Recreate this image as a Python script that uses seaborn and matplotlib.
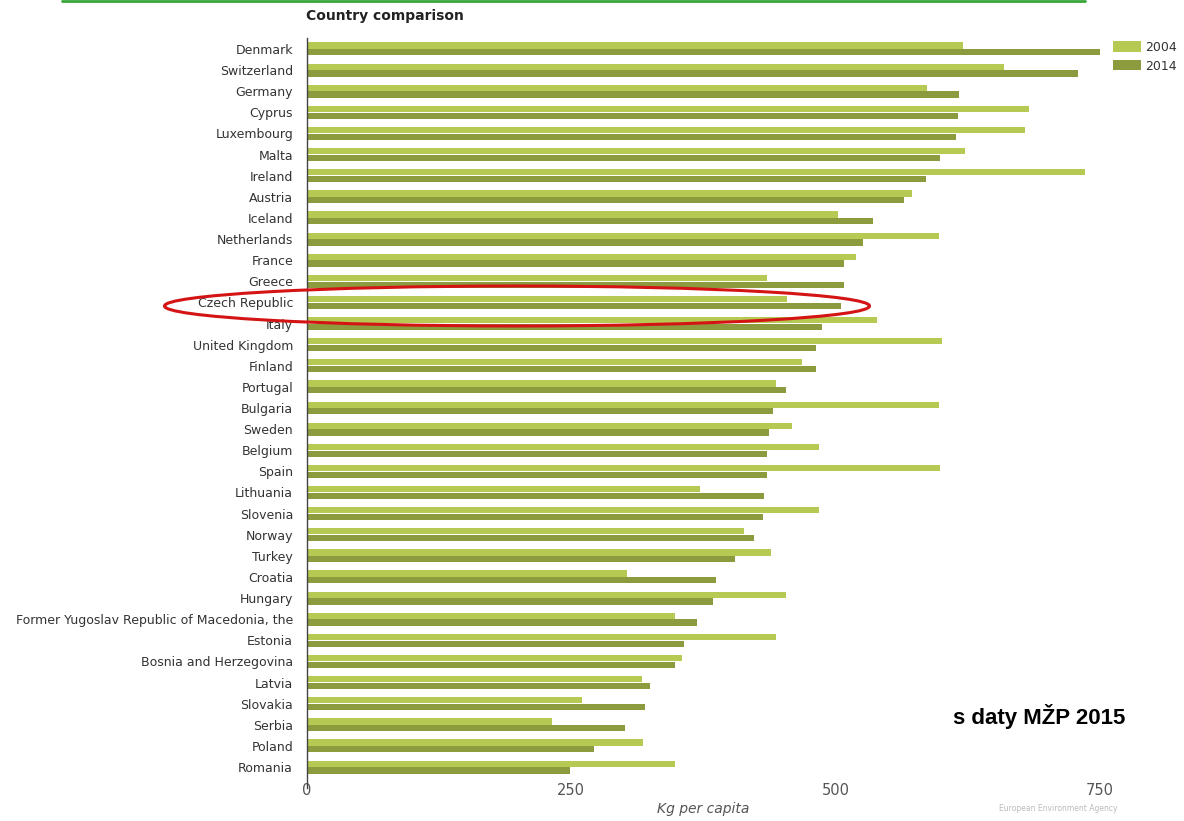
import matplotlib
matplotlib.use("Agg")
import matplotlib.pyplot as plt
from matplotlib.patches import Ellipse
from matplotlib.lines import Line2D
import seaborn as sns
import pandas as pd

countries = [
    "Denmark", "Switzerland", "Germany", "Cyprus", "Luxembourg", "Malta",
    "Ireland", "Austria", "Iceland", "Netherlands", "France", "Greece",
    "Czech Republic", "Italy", "United Kingdom", "Finland", "Portugal",
    "Bulgaria", "Sweden", "Belgium", "Spain", "Lithuania", "Slovenia",
    "Norway", "Turkey", "Croatia", "Hungary",
    "Former Yugoslav Republic of Macedonia, the", "Estonia",
    "Bosnia and Herzegovina", "Latvia", "Slovakia", "Serbia", "Poland",
    "Romania",
]
kg_2004 = [620, 659, 586, 683, 679, 622, 736, 572, 502, 598, 519, 435,
           454, 539, 601, 468, 444, 598, 459, 484, 599, 372, 484, 413,
           439, 303, 453, 348, 444, 355, 317, 260, 232, 318, 348]
kg_2014 = [750, 729, 617, 616, 614, 599, 585, 565, 535, 526, 508, 508,
           505, 487, 481, 481, 453, 441, 437, 435, 435, 432, 431, 423,
           405, 387, 384, 369, 357, 348, 324, 320, 301, 271, 249]
years = ["2004", "2014"]
x_ticks = [0, 250, 500, 750]

df = pd.DataFrame({
    "country": countries * 2,
    "kg": kg_2004 + kg_2014,
    "year": [years[0]] * len(countries) + [years[1]] * len(countries),
})

sns.set_theme(style="white")
plt.rcParams["font.family"] = ["DejaVu Sans"]

W, H = 1184, 821
fig = plt.figure(figsize=(W / 100, H / 100), dpi=100)
ax = fig.add_axes([307 / W, 1 - 777.6 / H, (1100 - 307) / W, (777.6 - 38.4) / H])

palette = {"2004": "#b6c952", "2014": "#8b9b3d"}
sns.barplot(data=df, y="country", x="kg", hue="year", palette=palette,
            order=countries, hue_order=years, orient="h",
            width=0.64, gap=0.08, saturation=1, linewidth=0, ax=ax)

ax.set_xlim(0, 750)
ax.set_xticks(x_ticks)
ax.set_xticklabels([str(t) for t in x_ticks], fontsize=10.5, color="#555555")
ax.tick_params(axis="x", length=0, pad=4)
ax.tick_params(axis="y", length=0, pad=10, labelsize=9, labelcolor="#333333")
ax.set_ylabel("")
ax.set_xlabel("Kg per capita", fontsize=10, style="italic", color="#555555",
              labelpad=3)
for side in ["top", "right", "bottom"]:
    ax.spines[side].set_visible(False)
ax.spines["left"].set_color("#444444")
ax.spines["left"].set_linewidth(1.0)
ax.spines["left"].set_bounds(35.0, -0.5)

leg = ax.legend(loc="upper left", bbox_to_anchor=(1108 / W, 1 - 36 / H),
                bbox_transform=fig.transFigure, frameon=False, fontsize=9,
                handlelength=2.2, handleheight=0.9, labelspacing=0.45,
                handletextpad=0.4, borderaxespad=0)
for t in leg.get_texts():
    t.set_color("#333333")

fig.text(306 / W, 1 - 16 / H, "Country comparison", fontsize=10,
         fontweight="bold", color="#222222", ha="left", va="center")

# green rule along the top edge
fig.add_artist(Line2D([62 / W, 1085 / W], [1 - 1 / H, 1 - 1 / H],
                      transform=fig.transFigure, color="#3aa63a", linewidth=2))

# highlight ring around the Czech Republic row
fig.add_artist(Ellipse((517 / W, 1 - 306 / H), 705 / W, 40 / H,
                       transform=fig.transFigure, fill=False,
                       edgecolor="#d41414", linewidth=2.2))

fig.text(1039 / W, 1 - 716 / H, "s daty MŽP 2015", fontsize=16,
         fontweight="bold", family=["Liberation Sans", "DejaVu Sans"],
         color="black", ha="center", va="center")

fig.text(1058 / W, 1 - 808 / H, "European Environment Agency", fontsize=5.5,
         color="#bbbbbb", ha="center", va="center")

fig.savefig("out.png", dpi=100, facecolor="white")
